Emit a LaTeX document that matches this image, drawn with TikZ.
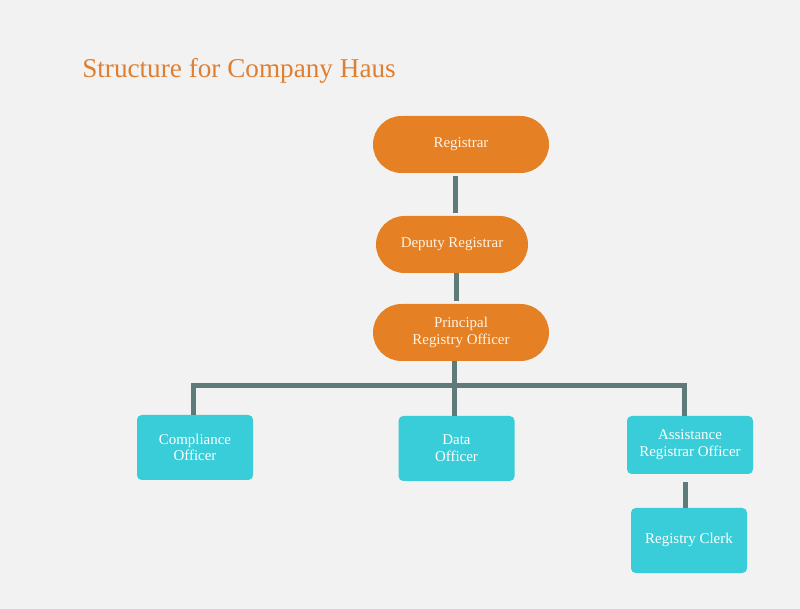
\documentclass[tikz,border=0pt]{standalone}
\usepackage{fontspec}
\setmainfont{Liberation Serif}
\definecolor{bgGrey}{RGB}{242, 242, 242}
\definecolor{hausOrange}{RGB}{229, 128, 37}
\definecolor{titleOrange}{RGB}{224, 127, 48}
\definecolor{hausCyan}{RGB}{56, 205, 216}
\definecolor{linkGrey}{RGB}{94, 123, 122}
\definecolor{textCream}{RGB}{255, 244, 228}
\usetikzlibrary{shapes.misc,positioning}

\begin{document}
\begin{tikzpicture}[x=0.75pt,y=-0.75pt,
    lead/.style={rounded rectangle,fill=hausOrange,text=textCream,font=\fontsize{11.2}{12.5}\selectfont,
        align=center,minimum height=42.75pt,inner sep=0pt},
    staff/.style={rectangle,rounded corners=3.5pt,fill=hausCyan,text=white,font=\fontsize{11.2}{12.5}\selectfont,
        align=center,minimum width=87pt,minimum height=48.75pt,inner sep=0pt},
    link/.style={linkGrey,line width=3.75pt}]
                % page background
                \fill[bgGrey] (0,0) rectangle (800,609);
                \useasboundingbox (0,0) rectangle (800,609);

                \node[anchor=base west,inner sep=0pt,font=\fontsize{20.4}{24}\selectfont,titleOrange] (title) at (82,78) {Structure for Company Haus};

                % management chain
                \node[lead,minimum width=132pt] (reg) at (461,144.5) {\strut Registrar};
                \node[lead,minimum width=114pt] (dep) at (452,244.5) {\strut Deputy Registrar};
                \node[lead,minimum width=132pt] (pro) at (461,332.5) {Principal\\Registry Officer};

                % officers
                \node[staff] (comp) at (195,447.5) {Compliance\\Officer};
                \node[staff] (data) at (456.5,448.5) {Data\\Officer};
                \node[staff,minimum width=94.5pt,minimum height=43.5pt] (asst) at (690,445) {Assistance\\Registrar Officer};
                \node[staff] (clerk) at (689,540.5) {\strut Registry Clerk};

                % connections
                \draw[link,shorten <=2pt,shorten >=2pt] (reg.south -| 455,0) -- (dep.north -| 455,0);
                \draw[link,shorten >=2pt] (dep.south -| 456,0) -- (pro.north -| 456,0);
                \coordinate (bar) at (454,386);
                \draw[link] (pro.south -| bar) -- (bar);
                \draw[link] (bar) -| (comp.north -| 193,0);
                \draw[link] (bar) -| (asst.north -| 684,0);
                \draw[link] (bar) -- (data.north -| bar);
                \draw[link,shorten <=6pt] (asst.south -| 685,0) -- (clerk.north -| 685,0);
            \end{tikzpicture}
\end{document}
